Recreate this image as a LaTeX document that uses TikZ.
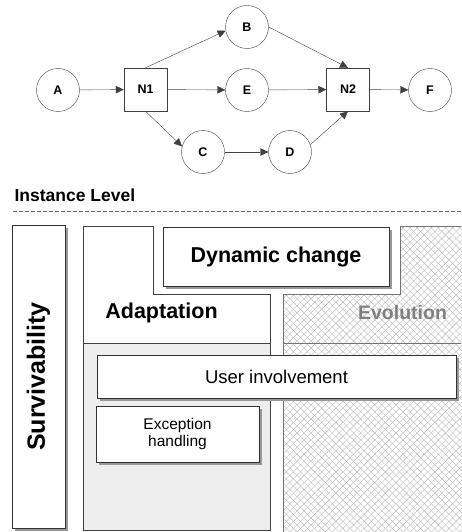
\documentclass[tikz,border=0pt]{standalone}
\usepackage{fontspec}
\setmainfont{Liberation Sans}
\usetikzlibrary{arrows.meta,positioning,patterns.meta,shadows}

\begin{document}
\begin{tikzpicture}[x=1pt,y=-1pt,
    place/.style={circle,draw=black!75,fill=white,minimum size=43pt,inner sep=0pt,font=\fontsize{12.5}{13}\selectfont\bfseries},
    gate/.style={rectangle,draw=black!75,fill=white,minimum size=43pt,inner sep=0pt,font=\fontsize{12.5}{13}\selectfont\bfseries},
    flow/.style={draw=black!75,-{Triangle[length=8pt,width=7.5pt]}},
    region/.style={draw=black!75,line width=0.8pt},
    block/.style={rectangle,draw=black!80,fill=white,line width=0.8pt,inner sep=0pt},
    boxshadow/.style={drop shadow={shadow xshift=2.5pt,shadow yshift=-2.5pt,fill=black!40,opacity=1}},
    big/.style={font=\fontsize{21.5}{24}\selectfont\bfseries}]
\useasboundingbox (0,0) rectangle (461,532);

% process net
\foreach \n/\x/\y in {A/58/90,B/247/27,E/247/90,C/203/152,D/290/152,F/430/90}
  \node[place] (\n) at (\x,\y) {\n};
\node[gate] (N1) at (145.5,89.5) {N1};
\node[gate] (N2) at (348,89.5) {N2};

\foreach \a/\b in {A/N1,N1/E,E/N2,N2/F,C/D}
  \draw[flow] (\a) -- (\b);
\draw[flow] (N1.north) -- (B.190);
\draw[flow] (B.east) -- (N2.north);
\draw[flow] (N1.south) -- (C.165);
\draw[flow] (D.20) -- (N2.south);

\node[anchor=west,font=\fontsize{17.5}{20}\selectfont\bfseries] (inst) at (11,195) {Instance Level};
\draw[black!60,dash pattern=on 4pt off 2pt] (13,211) -- (461,211);

% adaptation and evolution
\fill[gray!13] (83,343) rectangle (270,530);
\draw[region] (83,226) -- (153,226) -- (153,294) -- (270,294) -- (270,530) -- (83,530) -- cycle;
\draw[region] (83,343) -- (270,343);

\path[pattern={Lines[angle=45,distance=5pt,line width=0.4pt]},pattern color=gray!55]
  (400,226) -- (465,226) -- (465,536) -- (283,536) -- (283,294) -- (400,294) -- cycle;
\path[pattern={Lines[angle=-45,distance=5pt,line width=0.4pt]},pattern color=gray!55]
  (400,226) -- (465,226) -- (465,536) -- (283,536) -- (283,294) -- (400,294) -- cycle;
\draw[region,draw=black!55] (461,226) -- (400,226) -- (400,294) -- (283,294) -- (283,532);
\draw[region,draw=black!55] (283,343) -- (461,343);

\node[big] (adapt) at (161.5,313) {Adaptation};
\node[font=\fontsize{19.5}{22}\selectfont\bfseries,text=black!50] (evol) at (402.5,313) {Evolution};

% boxes
\node[block,boxshadow,minimum width=53pt,minimum height=303pt] (surv) at (38.5,376.5) {};
\node[rotate=90,font=\fontsize{25}{28}\selectfont\bfseries] (survtext) at (surv) {Survivability};
\node[block,boxshadow,big,minimum width=226pt,minimum height=59pt] (dyn) at (276,256.5) {Dynamic change};
\node[block,boxshadow,minimum width=359pt,minimum height=43pt,font=\fontsize{18.5}{20}\selectfont] (user) at (276.5,376.5) {User involvement};
\node[block,boxshadow,minimum width=163pt,minimum height=56pt,align=center,font=\fontsize{15.5}{17.5}\selectfont] (exc) at (177.5,434) {Exception\\handling};
\end{tikzpicture}
\end{document}
